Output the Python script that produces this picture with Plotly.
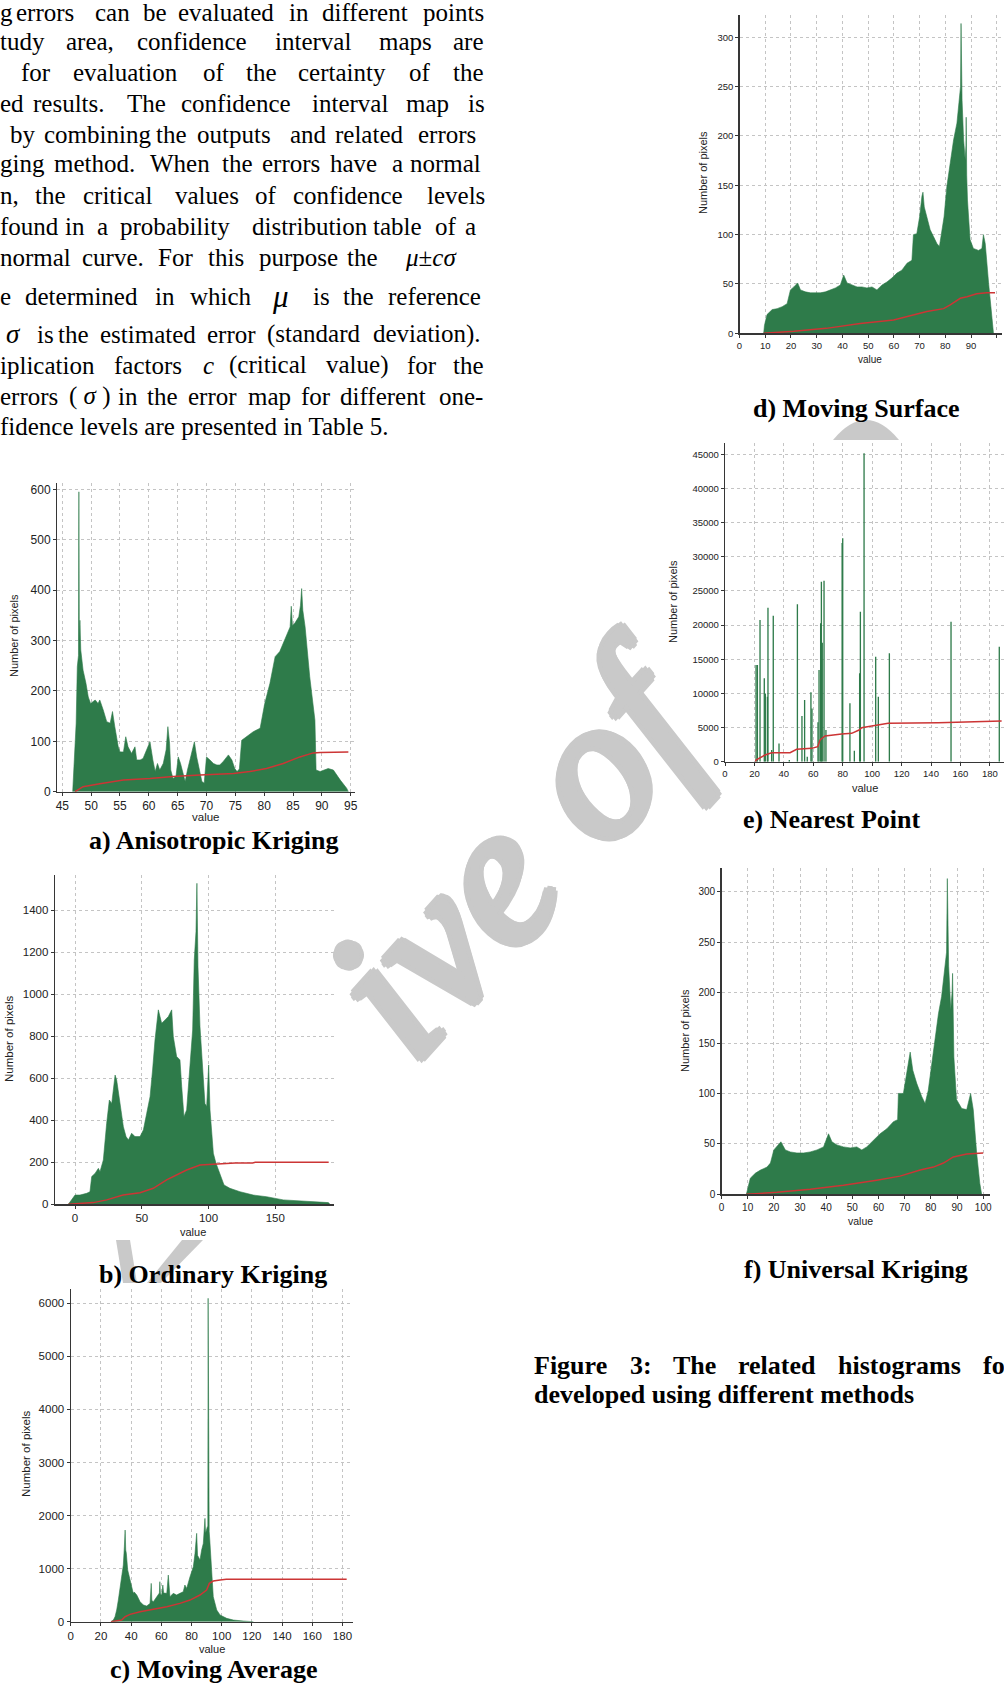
import plotly.graph_objects as go

W, H = 1004, 1684

# ======================= DATA =======================
# a) Anisotropic Kriging : (value, number of pixels)
a_hist = [(46.8, 0), (47.0, 56), (47.4, 136), (47.6, 248), (47.8, 270), (47.87, 595), (47.95, 300),
          (48.05, 340), (48.2, 281), (48.6, 241), (49.1, 215), (49.5, 188), (49.9, 175), (50.7, 182),
          (51.2, 175), (51.5, 182), (52.1, 162), (52.7, 139), (53.3, 136), (53.7, 159), (54.1, 129),
          (54.7, 89), (55.0, 79), (55.6, 79), (56.0, 109), (56.4, 89), (57.0, 76), (57.6, 89),
          (57.9, 63), (58.5, 63), (59.0, 66), (59.9, 89), (60.2, 99), (60.7, 63), (61.1, 40),
          (61.5, 56), (61.9, 43), (62.5, 56), (63.0, 83), (63.3, 129), (63.6, 96), (63.8, 43),
          (64.2, 26), (64.7, 30), (65.1, 69), (65.5, 56), (65.9, 36), (66.3, 20), (66.7, 43),
          (67.1, 63), (67.9, 99), (68.3, 69), (68.8, 43), (69.2, 20), (69.6, 17), (70.0, 69),
          (70.6, 63), (71.2, 56), (71.8, 53), (72.3, 53), (72.9, 60), (73.8, 73), (74.4, 63),
          (74.9, 46), (75.3, 40), (75.7, 45), (76.1, 102), (77.0, 110), (78.1, 119), (79.3, 126),
          (80.1, 175), (81.0, 215), (81.9, 268), (82.7, 278), (83.6, 301), (84.5, 327), (84.7, 368),
          (84.9, 330), (85.3, 334), (86.0, 347), (86.3, 370), (86.5, 403), (86.7, 360), (87.1, 327),
          (87.9, 228), (88.8, 142), (89.0, 43), (89.7, 40), (91.1, 46), (92.0, 43), (93.2, 23),
          (94.3, 7), (94.6, 0)]
a_cum = [(47.2, 0), (48.6, 10), (51.5, 16), (55.6, 23), (60.2, 26), (64.2, 30), (68.9, 33),
         (74.7, 36), (77.5, 40), (80.4, 46), (83.3, 56), (86.2, 69), (88.5, 77), (89.7, 78), (94.6, 79)]

# b) Ordinary Kriging
b_hist = [(-5, 0), (-4.5, 5), (-3.7, 13), (0, 44), (3.7, 44), (8.7, 52), (11.2, 60), (12.5, 132),
          (15, 147), (17.5, 171), (18.7, 155), (21.2, 211), (23.7, 385), (25.7, 496), (27.5, 480),
          (30, 615), (31.2, 591), (33.7, 480), (36.2, 369), (38.2, 322), (40, 306), (42.4, 338),
          (44.9, 322), (48.7, 322), (51.2, 354), (53.7, 433), (56.2, 512), (58.1, 639), (59.9, 782),
          (62.4, 925), (64.9, 861), (67.4, 877), (69.9, 893), (72.4, 925), (73.6, 798), (76.1, 703),
          (78.6, 687), (79.9, 560), (81.6, 417), (83.6, 449), (86.1, 639), (88.1, 829), (89.3, 1162),
          (90.6, 1297), (91.3, 1527), (92.1, 1130), (93.6, 845), (95.6, 639), (97.3, 480),
          (98.6, 465), (100.1, 663), (101.1, 449), (103.6, 243), (105.6, 195), (108.6, 147),
          (111.6, 92), (116, 76), (123.5, 60), (133.5, 44), (143.5, 36), (156, 21), (168.5, 16),
          (181, 13), (189.7, 8), (191, 0)]
b_cum = [(-5, 0), (13.7, 8), (23.7, 21), (36, 44), (48.7, 55), (58.6, 76), (68.6, 116), (78.6, 147),
         (83.6, 163), (93.6, 187), (105, 192), (120, 196), (133, 197), (135, 200), (190, 200)]

# c) Moving Average
c_hist = [(26.6, 0), (28.2, 31), (29.3, 94), (30.4, 220), (31.5, 408), (32.6, 660), (33.7, 911),
          (34.8, 1068), (35.5, 1413), (36.0, 1727), (36.4, 1350), (36.8, 1288), (37.7, 974),
          (39.2, 785), (40.3, 628), (41.4, 534), (42.0, 560), (43.7, 503), (45.9, 377), (48.1, 314),
          (50.3, 295), (52.5, 345), (53.3, 722), (53.7, 400), (54.7, 377), (56.9, 471), (58.7, 540),
          (59.0, 754), (59.4, 520), (60.2, 503), (61.0, 690), (61.5, 540), (63.6, 534), (64.6, 879),
          (65.2, 520), (65.7, 471), (67.9, 534), (70.1, 503), (72.3, 534), (74.5, 565), (75.6, 691),
          (76.8, 628), (79.0, 848), (81.2, 1036), (82.3, 1288), (83.4, 1665), (84.0, 1250),
          (84.5, 1225), (85.6, 1162), (86.7, 1350), (87.8, 1476), (88.9, 1947), (89.3, 1665),
          (90.5, 1790), (90.8, 1790), (91.0, 6094), (91.2, 3000), (91.4, 5747), (91.7, 1700),
          (92.1, 1539), (92.9, 1099), (94.4, 471), (96.7, 220), (98.9, 126), (103.3, 63),
          (107.7, 31), (114.3, 13), (121, 0)]
c_cum = [(26.6, 0), (30, 10), (33.7, 31), (36, 94), (39.2, 138), (45.9, 188), (54.7, 232),
         (63.6, 283), (72.3, 345), (79, 408), (85.6, 503), (90, 597), (91.8, 722), (94.4, 766),
         (98.9, 785), (103, 798), (182.8, 798)]

# d) Moving Surface
d_hist = [(9.4, 0), (9.7, 8), (10.7, 19), (12.7, 24), (14.6, 25), (16.6, 27), (18.5, 30), (19.8, 44),
          (21.1, 47), (22.6, 51), (23.7, 44), (25.6, 42), (27.6, 41), (29.5, 41), (31.4, 41),
          (33.4, 42), (35.3, 44), (37.3, 46), (39.2, 49), (40.5, 59), (41.8, 51), (43.7, 49),
          (45.7, 47), (47.6, 47), (49.5, 46), (51.5, 47), (53.4, 44), (55.4, 49), (57.3, 52),
          (59.2, 56), (61.2, 61), (63.1, 64), (65.1, 71), (67.0, 74), (67.6, 100), (68.9, 101),
          (70.0, 118), (70.9, 139), (71.3, 143), (71.8, 128), (72.8, 118), (74.1, 105), (75.4, 98),
          (76.7, 91), (77.7, 88), (78.6, 101), (79.5, 118), (80.6, 149), (81.9, 172), (83.2, 196),
          (84.5, 213), (85.5, 240), (85.9, 250), (86.1, 314), (86.3, 245), (86.5, 236), (87.1, 196),
          (87.7, 176), (88.0, 190), (88.1, 219), (88.3, 160), (88.6, 135), (89.6, 95), (90.9, 86),
          (92.9, 84), (94.2, 86), (94.8, 100), (95.5, 91), (96.8, 51), (98.0, 14), (98.7, 0)]
d_cum = [(9.4, 0), (21.1, 2), (33.7, 5), (46.9, 10), (59.9, 13.5), (67.7, 18.6), (72.8, 22),
         (79.3, 25), (81.9, 28.7), (85.8, 35.5), (88.4, 37), (92.2, 40), (96.1, 41), (99.3, 41)]

# e) Nearest Point (isolated spikes)
e_hist = [(21.1, 14150), (22.0, 14150), (23.8, 20740), (26.7, 12200), (27.4, 10000), (28.8, 9500),
          (29.2, 22550), (31.7, 1700), (32.8, 21380), (36.7, 2680), (43.7, 240), (49.2, 23040),
          (52.3, 6690), (54.1, 9030), (55.9, 730), (58.4, 10150), (59.1, 7800), (63.2, 5760),
          (63.9, 13420), (65.0, 20250), (65.5, 26350), (66.1, 17420), (67.3, 26500), (68.6, 4640),
          (79.6, 32000), (80.0, 32700), (84.9, 8540), (87.9, 1610), (91.5, 12930), (92.0, 21960),
          (94.5, 45140), (102.4, 15370), (104.2, 9520), (111.7, 15860), (153.6, 20500),
          (186.4, 16840)]
e_cum = [(20.8, 0), (21.1, 244), (27.2, 976), (31.7, 1318), (44.2, 1318), (48.7, 1806), (58.9, 1952),
         (63.0, 2196), (64.6, 3172), (68.0, 3758), (79.3, 4051), (86.1, 4148), (91.1, 4636),
         (92.9, 4978), (99.7, 5222), (110.9, 5612), (145.0, 5710), (169.9, 5856), (188.0, 5954)]

# f) Universal Kriging
f_hist = [(9.5, 0), (10, 6), (11, 16), (13, 21), (14.9, 24), (17.4, 27), (18.7, 31), (20, 44),
          (21.9, 49), (22.7, 52), (24.4, 44), (26.3, 42), (28.8, 41), (31.4, 41), (33.9, 42),
          (36.5, 44), (39, 47), (40.9, 60), (42.2, 52), (44.1, 49), (46.6, 47), (49.2, 46),
          (51.7, 47), (53.6, 44), (55.5, 47), (58.1, 54), (60.6, 60), (63.2, 65), (65.7, 72),
          (67.3, 74), (67.6, 100), (69.5, 100), (70.8, 123), (72.1, 141), (73.1, 123), (74.6, 110),
          (76.5, 97), (77.8, 90), (79, 103), (80.3, 130), (81.6, 156), (82.9, 179), (84.1, 196),
          (85.4, 226), (86.0, 240), (86.3, 313), (86.5, 240), (86.8, 226), (87.6, 183), (88.1, 200),
          (88.3, 219), (88.5, 160), (88.8, 136), (89.8, 94), (91.8, 85), (93.7, 84), (95.2, 100),
          (96.2, 84), (97.5, 41), (98.7, 11), (99.4, 0)]
f_cum = [(9.5, 0), (21.2, 2), (33.9, 5), (46.6, 9), (59.3, 14), (68.2, 18), (75.9, 24), (81, 27),
         (84.8, 31), (88.6, 37), (93.7, 40), (97.5, 41), (100, 41)]

captions = ["a) Anisotropic Kriging", "b) Ordinary Kriging", "c) Moving Average",
            "d) Moving Surface", "e) Nearest Point", "f) Universal Kriging"]
y_title = "Number of pixels"
x_title = "value"
watermark = "ive of"

paragraph = [
    ["g", "errors", "can", "be", "evaluated", "in", "different", "points"],
    ["tudy", "area,", "confidence", "interval", "maps", "are"],
    ["for", "evaluation", "of", "the", "certainty", "of", "the"],
    ["ed", "results.", "The", "confidence", "interval", "map", "is"],
    ["by", "combining", "the", "outputs", "and", "related", "errors"],
    ["ging", "method.", "When", "the", "errors", "have", "a", "normal"],
    ["n,", "the", "critical", "values", "of", "confidence", "levels"],
    ["found", "in", "a", "probability", "distribution", "table", "of", "a"],
    ["normal", "curve.", "For", "this", "purpose", "the", "<i>μ</i>±<i>cσ</i>"],
    ["e", "determined", "in", "which", "<i>μ</i>", "is", "the", "reference"],
    ["<i>σ</i>", "is", "the", "estimated", "error", "(standard", "deviation)."],
    ["iplication", "factors", "<i>c</i>", "(critical", "value)", "for", "the"],
    ["errors", "( <i>σ</i> )", "in", "the", "error", "map", "for", "different", "one-"],
    ["fidence levels are presented in Table 5."],
]
fig_caption = [["Figure", "3:", "The", "related", "histograms", "fo"],
               ["developed using different methods"]]

# ======================= LAYOUT (pixel geometry) =======================
GREEN = "#2e7b4a"
RED = "#cc3535"
GRID = "#c4c4c4"
AXIS = "#363636"
STAMP = "#c9c9c9"
SANS = "Liberation Sans"
SERIF = "Liberation Serif"


def fx(p):
    return p / W


def fy(p):
    return 1 - p / H


def unzip(pairs):
    return [p[0] for p in pairs], [p[1] for p in pairs]


def note(text, x, y, size, family=SERIF, xanchor="left", yanchor="middle", angle=0, color="black",
         weight="normal", style="normal", shadow="none"):
    return dict(text=text, x=fx(x), y=fy(y), xref="paper", yref="paper", showarrow=False,
                xanchor=xanchor, yanchor=yanchor, textangle=angle, borderpad=0, borderwidth=0,
                font=dict(family=family, size=size, color=color, weight=weight, style=style,
                          shadow=shadow))


def poly(points):
    path = "M " + " L ".join(f"{fx(px_):.5f},{fy(py_):.5f}" for px_, py_ in points) + " Z"
    return dict(type="path", path=path, xref="paper", yref="paper", layer="below",
                fillcolor=STAMP, line=dict(width=0))


panels = [
    dict(hist=a_hist, cum=a_cum, bars=False, xd=(57.3, 355.0), yd=(483.3, 791.7), xr=[44.13, 95.75],
         yr=[0, 611.9], dx=5, dy=100, fs=12, yt=(14, 636, 11), xt=(206, 817, 11.5), cap=(213, 841)),
    dict(hist=b_hist, cum=b_cum, bars=False, xd=(55.0, 334.3), yd=(875.0, 1204.3), xr=[-15.0, 194.2],
         yr=[0, 1566.6], dx=50, dy=200, fs=11.5, yt=(9, 1039, 11.5), xt=(193, 1232, 11), cap=(213, 1274)),
    dict(hist=c_hist, cum=c_cum, bars=False, xd=(70.8, 353.3), yd=(1289.3, 1621.7), xr=[0, 187.2],
         yr=[0, 6264], dx=20, dy=1000, fs=11.5, yt=(26, 1454, 11.5), xt=(212, 1649, 11), cap=(213, 1669)),
    dict(hist=d_hist, cum=d_cum, bars=False, xd=(739.5, 1001.7), yd=(15.0, 333.3), xr=[0, 101.9],
         yr=[0, 322.6], dx=10, dy=50, fs=9.5, yt=(703, 173, 11), xt=(870, 359, 10), cap=(856, 409)),
    dict(hist=e_hist, cum=e_cum, bars=True, xd=(725.0, 1004.0), yd=(443.3, 761.7), xr=[0, 189.6],
         yr=[0, 46610], dx=20, dy=5000, fs=9.5, yt=(673, 602, 11), xt=(865, 788, 11), cap=(831, 819)),
    dict(hist=f_hist, cum=f_cum, bars=False, xd=(721.5, 990.0), yd=(868.0, 1194.3), xr=[0, 102.6],
         yr=[0, 323.5], dx=10, dy=50, fs=10, yt=(685, 1031, 11), xt=(860, 1221, 10.5), cap=(856, 1269)),
]

fig = go.Figure()
layout = dict(width=W, height=H, margin=dict(l=0, r=0, t=0, b=0, autoexpand=False),
              paper_bgcolor="white", plot_bgcolor="white", showlegend=False, hovermode=False)
annotations = []

# watermark: visible part of the grey diagonal stamp (heavy italic), plus two fragments
halo = ", ".join(f"{dx}px {dy}px 0 {STAMP}" for dx, dy in
                 [(5, 0), (-5, 0), (0, 5), (0, -5), (3.5, 3.5), (-3.5, -3.5), (3.5, -3.5), (-3.5, 3.5)])
annotations.append(note("<i>" + watermark + "</i>", 519, 848, 202, xanchor="center", angle=-48,
                        color=STAMP, style="italic", shadow=halo))
shapes = [
    poly([(116, 1240), (130, 1240), (137, 1283), (123, 1283)]),
    poly([(182, 1240), (203, 1240), (161, 1283), (147, 1283)]),
    dict(type="path", xref="paper", yref="paper", layer="below", fillcolor=STAMP, line=dict(width=0),
         path="M {:.5f},{:.5f} Q {:.5f},{:.5f} {:.5f},{:.5f} Z".format(
             fx(833), fy(440), fx(866), fy(400), fx(899), fy(440))),
]

for i, s in enumerate(panels, start=1):
    key = "" if i == 1 else str(i)
    xa, ya = "x" + key, "y" + key
    hx, hy = unzip(s["hist"])
    if s["bars"]:
        fig.add_trace(go.Bar(x=hx, y=hy, width=0.9, marker=dict(color=GREEN, line=dict(width=0)),
                             xaxis=xa, yaxis=ya))
    else:
        fig.add_trace(go.Scatter(x=hx, y=hy, mode="lines", fill="tozeroy", fillcolor=GREEN,
                                 line=dict(color=GREEN, width=0.6), xaxis=xa, yaxis=ya))
    cx, cy = unzip(s["cum"])
    fig.add_trace(go.Scatter(x=cx, y=cy, mode="lines", line=dict(color=RED, width=1.5),
                             xaxis=xa, yaxis=ya))
    common = dict(showline=True, linecolor=AXIS, linewidth=1.3, ticks="outside", ticklen=3,
                  tickwidth=1, tickcolor=AXIS, tick0=0, showgrid=True, gridcolor=GRID,
                  griddash="3px,3px", gridwidth=1, zeroline=False, fixedrange=True,
                  tickfont=dict(family=SANS, size=s["fs"], color="#222222"))
    layout["xaxis" + key] = dict(common, domain=[fx(s["xd"][0]), fx(s["xd"][1])], range=s["xr"],
                                 dtick=s["dx"], anchor=ya)
    layout["yaxis" + key] = dict(common, domain=[fy(s["yd"][1]), fy(s["yd"][0])], range=s["yr"],
                                 dtick=s["dy"], anchor=xa, tickformat="d")
    tx, ty, tfs = s["yt"]
    annotations.append(note(y_title, tx, ty, tfs, family=SANS, xanchor="center", angle=-90,
                            color="#222222"))
    vx, vy, vfs = s["xt"]
    annotations.append(note(x_title, vx, vy, vfs, family=SANS, xanchor="center", color="#222222"))
    capx, capy = s["cap"]
    annotations.append(note(captions[i - 1], capx, capy, 26, xanchor="center", weight="bold"))

# paragraph word positions (justified text, pixel x of each word start, line centre y)
para_x = [
    [0, 16, 95, 143, 178, 289, 322, 423],
    [0, 66, 137, 275, 379, 453],
    [21, 73, 203, 246, 298, 409, 453],
    [0, 33, 127, 181, 312, 406, 468],
    [10, 44, 156, 197, 290, 335, 418],
    [0, 54, 150, 222, 262, 330, 392, 410],
    [0, 35, 83, 175, 255, 293, 427],
    [0, 65, 97, 120, 252, 373, 435, 465],
    [0, 82, 158, 208, 259, 347, 405],
    [0, 25, 155, 190, 272, 313, 343, 388],
    [6, 37, 58, 100, 207, 267, 373],
    [0, 114, 203, 229, 326, 407, 453],
    [0, 69, 118, 147, 188, 248, 301, 340, 439],
    [0],
]
para_y = [12, 42, 72, 104, 134, 164, 195, 226, 258, 296, 334, 365, 396, 426]
for words, xs, yy in zip(paragraph, para_x, para_y):
    for w, xx in zip(words, xs):
        size = 25
        if w == "<i>μ</i>":
            size = 31
        elif w == "<i>σ</i>":
            size = 27
        annotations.append(note(w, xx, yy, size))

cap_x = [[534, 630, 673, 738, 838, 983], [534]]
cap_y = [1365, 1394]
for words, xs, yy in zip(fig_caption, cap_x, cap_y):
    for w, xx in zip(words, xs):
        annotations.append(note(w, xx, yy, 26, weight="bold"))

layout["annotations"] = annotations
layout["shapes"] = shapes
fig.update_layout(**layout)

fig.write_html("out.html", config={"displayModeBar": False, "staticPlot": True},
               post_script="document.body.style.margin='0px';")
